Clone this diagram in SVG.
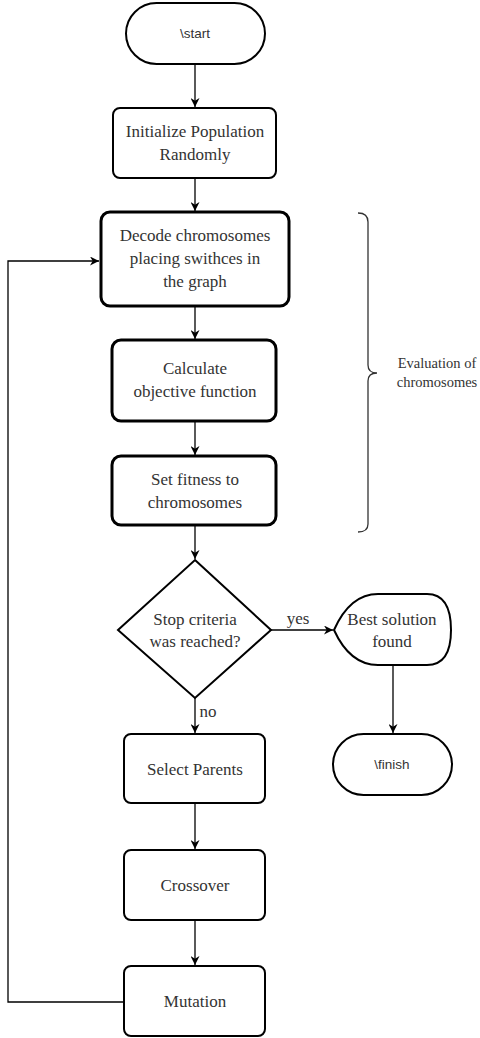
<svg xmlns="http://www.w3.org/2000/svg" width="480" height="1038" viewBox="0 0 480 1038">
<defs>
<marker id="arr" viewBox="0 0 10 10" refX="10" refY="5" markerWidth="9" markerHeight="9" markerUnits="userSpaceOnUse" orient="auto">
<path d="M0,0 L10,5 L0,10 L3,5 Z" fill="#000"/>
</marker>
<style>
.box{fill:#fff;stroke:#000;stroke-width:2}
.thick{fill:#fff;stroke:#000;stroke-width:3}
.t{font-family:"Liberation Serif",serif;font-size:17px;fill:#333;text-anchor:middle}
.s{font-family:"Liberation Sans",sans-serif;font-size:13.5px;fill:#333;text-anchor:middle}
.e{font-family:"Liberation Serif",serif;font-size:14.5px;fill:#333;text-anchor:middle}
.c{fill:none;stroke:#000;stroke-width:1.3}
</style>
</defs>
<rect width="480" height="1038" fill="#fff"/>
<g id="connectors">
<path class="c" d="M195,64 V107" marker-end="url(#arr)"/>
<path class="c" d="M195,178 V211" marker-end="url(#arr)"/>
<path class="c" d="M195,306 V339" marker-end="url(#arr)"/>
<path class="c" d="M195,421 V455" marker-end="url(#arr)"/>
<path class="c" d="M195,525 V559" marker-end="url(#arr)"/>
<path class="c" d="M271,630 H333" marker-end="url(#arr)"/>
<path class="c" d="M393,665 V733" marker-end="url(#arr)"/>
<path class="c" d="M195,698 V733" marker-end="url(#arr)"/>
<path class="c" d="M195,803 V849" marker-end="url(#arr)"/>
<path class="c" d="M195,920 V965" marker-end="url(#arr)"/>
<path class="c" d="M124,1002 H8 V261 H99" marker-end="url(#arr)"/>
<text class="t" x="298" y="624">yes</text>
<text class="t" x="208" y="717">no</text>
</g>
<g id="start">
<rect class="box" x="126" y="3" width="139" height="61" rx="30.5"/>
<text class="s" x="195" y="38">\start</text>
</g>
<g id="init">
<rect class="box" x="113" y="108" width="163" height="70" rx="7"/>
<text class="t" x="195" y="137">Initialize Population</text>
<text class="t" x="195" y="160">Randomly</text>
</g>
<g id="decode">
<rect class="thick" x="101" y="212" width="188" height="94" rx="9"/>
<text class="t" x="195" y="241">Decode chromosomes</text>
<text class="t" x="195" y="264">placing swithces in</text>
<text class="t" x="195" y="287">the graph</text>
</g>
<g id="calc">
<rect class="thick" x="112" y="340" width="164" height="81" rx="9"/>
<text class="t" x="195" y="374">Calculate</text>
<text class="t" x="195" y="397">objective function</text>
</g>
<g id="fitness">
<rect class="thick" x="112" y="456" width="164" height="69" rx="9"/>
<text class="t" x="195" y="485">Set fitness to</text>
<text class="t" x="195" y="508">chromosomes</text>
</g>
<g id="brace">
<path fill="none" stroke="#333" stroke-width="1.3" d="M358,213 Q368,213 368,222 V365 Q368,373 377,373 Q368,373 368,381 V524 Q368,532 358,532"/>
<text class="e" x="437" y="368">Evaluation of</text>
<text class="e" x="437" y="387">chromosomes</text>
</g>
<g id="decision">
<polygon class="box" points="195,560 271,630 195,698 118,630"/>
<text class="t" x="195" y="625">Stop criteria</text>
<text class="t" x="195" y="647">was reached?</text>
</g>
<g id="best">
<path class="box" d="M334,630 Q350,594 378,594 H427 Q451,594 451,630 Q451,665 427,665 H378 Q350,665 334,630 Z"/>
<text class="t" x="392" y="625">Best solution</text>
<text class="t" x="392" y="647">found</text>
</g>
<g id="finish">
<rect class="box" x="333" y="734" width="119" height="61" rx="30.5"/>
<text class="s" x="392" y="769">\finish</text>
</g>
<g id="select">
<rect class="box" x="124" y="734" width="141" height="69" rx="7"/>
<text class="t" x="195" y="775">Select Parents</text>
</g>
<g id="crossover">
<rect class="box" x="124" y="850" width="141" height="70" rx="7"/>
<text class="t" x="195" y="891">Crossover</text>
</g>
<g id="mutation">
<rect class="box" x="124" y="966" width="141" height="70" rx="7"/>
<text class="t" x="195" y="1007">Mutation</text>
</g>
</svg>
